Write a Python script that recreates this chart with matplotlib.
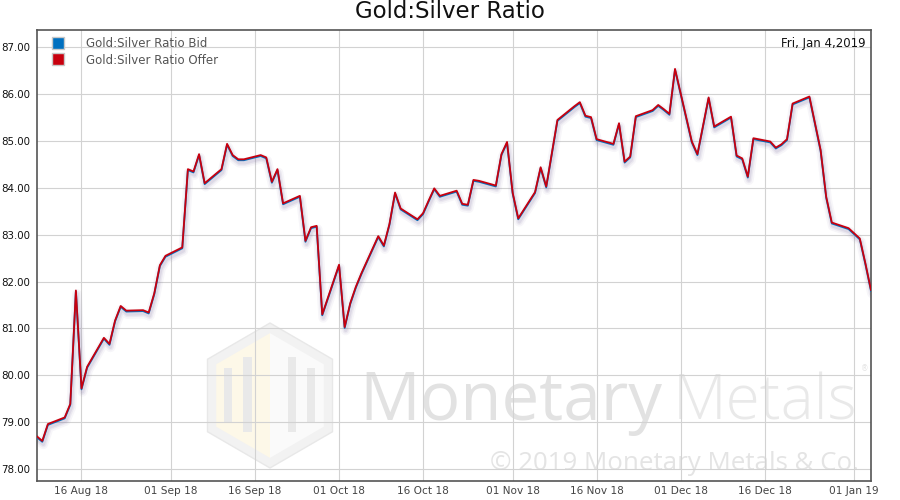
import numpy as np
import matplotlib
matplotlib.use("Agg")
import matplotlib.pyplot as plt
import matplotlib.dates as mdates
import matplotlib.transforms as mtransforms
from matplotlib.lines import Line2D
from matplotlib.patches import Polygon
from matplotlib.ticker import FormatStrFormatter, MultipleLocator
import pandas as pd

# trading days shown on the chart, per month
AUG_DAYS = [8, 9, 10, 13, 14, 15, 16, 17, 20, 21, 22, 23, 24, 27, 28, 29, 30, 31]
SEP_DAYS = [3, 4, 5, 6, 7, 10, 11, 12, 13, 14, 17, 18, 19, 20, 21, 24, 25, 26, 27, 28]
OCT_DAYS = [1, 2, 3, 4, 5, 8, 9, 10, 11, 12, 15, 16, 17, 18, 19, 22, 23, 24, 25, 26, 29, 30, 31]
NOV_DAYS = [1, 2, 5, 6, 7, 8, 9, 12, 13, 14, 15, 16, 19, 20, 21, 22, 23, 26, 27, 28, 29, 30]
DEC_DAYS = [3, 4, 6, 7, 10, 11, 12, 13, 14, 17, 18, 19, 20, 21, 24, 26, 27, 28, 31]
JAN_DAYS = [2, 3, 4]

OFFER = [
    78.70, 78.60, 78.96, 79.10, 79.39, 81.81, 79.72, 80.18, 80.80, 80.67, 81.17, 81.48, 81.38, 81.39, 81.34, 81.75, 82.35, 82.55,
    82.73, 84.40, 84.35, 84.72, 84.10, 84.40, 84.94, 84.70, 84.61, 84.61, 84.70, 84.65, 84.13, 84.40, 83.67, 83.83, 82.87, 83.16, 83.19, 81.30,
    82.36, 81.03, 81.54, 81.89, 82.18, 82.97, 82.77, 83.23, 83.90, 83.56, 83.33, 83.46, 83.73, 83.99, 83.83, 83.94, 83.66, 83.64, 84.17, 84.15, 84.05, 84.72, 84.98,
    83.90, 83.35, 83.91, 84.44, 84.03, 84.74, 85.45, 85.74, 85.83, 85.54, 85.51, 85.04, 84.94, 85.38, 84.56, 84.67, 85.53, 85.66, 85.77, 85.68, 85.58, 86.54,
    84.99, 84.72, 85.93, 85.31, 85.52, 84.69, 84.63, 84.24, 85.06, 84.99, 84.86, 84.93, 85.04, 85.80, 85.95, 84.81, 83.81, 83.26, 83.14,
    82.92, 82.39, 81.82,
]
BID = [
    78.68, 78.58, 78.94, 79.08, 79.37, 81.79, 79.70, 80.16, 80.78, 80.65, 81.15, 81.46, 81.36, 81.37, 81.32, 81.73, 82.33, 82.53,
    82.71, 84.38, 84.33, 84.70, 84.08, 84.38, 84.92, 84.68, 84.59, 84.59, 84.68, 84.63, 84.11, 84.38, 83.65, 83.81, 82.85, 83.14, 83.17, 81.28,
    82.34, 81.01, 81.52, 81.87, 82.16, 82.95, 82.75, 83.21, 83.88, 83.54, 83.31, 83.44, 83.71, 83.97, 83.81, 83.92, 83.64, 83.62, 84.15, 84.13, 84.03, 84.70, 84.96,
    83.88, 83.33, 83.89, 84.42, 84.01, 84.72, 85.43, 85.72, 85.81, 85.52, 85.49, 85.02, 84.92, 85.36, 84.54, 84.65, 85.51, 85.64, 85.75, 85.66, 85.56, 86.52,
    84.97, 84.70, 85.91, 85.29, 85.50, 84.67, 84.61, 84.22, 85.04, 84.97, 84.84, 84.91, 85.02, 85.78, 85.93, 84.79, 83.79, 83.24, 83.12,
    82.90, 82.37, 81.80,
]

TITLE = "Gold:Silver Ratio"
LABEL_BID = "Gold:Silver Ratio Bid"
LABEL_OFFER = "Gold:Silver Ratio Offer"
DATE_STAMP = "Fri, Jan 4,2019"

BLUE = "#0070c0"
RED = "#c8000e"

months = [(2018, 8, AUG_DAYS), (2018, 9, SEP_DAYS), (2018, 10, OCT_DAYS),
          (2018, 11, NOV_DAYS), (2018, 12, DEC_DAYS), (2019, 1, JAN_DAYS)]
dates = pd.to_datetime([f"{y}-{m:02d}-{d:02d}" for y, m, days in months for d in days])

W, H = 900, 500
fig = plt.figure(figsize=(W / 100, H / 100), dpi=100)
ax = fig.add_axes([36.7 / W, 1 - 480.7 / H, (871 - 36.7) / W, (480.7 - 30) / H])
ax.set_axisbelow(True)


def px(x, y):
    return (x / W, 1 - y / H)


# --- watermark: hexagon logo (kept under the grid) ---
cx, cy, hw, hh = 270, 395.5, 62.5, 72.5
outer = [(cx, cy - hh), (cx + hw, cy - hh / 2), (cx + hw, cy + hh / 2),
         (cx, cy + hh), (cx - hw, cy + hh / 2), (cx - hw, cy - hh / 2)]
ax.add_patch(Polygon([px(*p) for p in outer], closed=True, transform=fig.transFigure,
                     facecolor="#f2f2f2", edgecolor="#e8e8e8", lw=1, zorder=0.1))
s = 0.86
inner = [(cx + (x - cx) * s, cy + (y - cy) * s) for x, y in outer]
left_face = [inner[0], (cx, cy + hh * s * 0.62), inner[3], inner[4], inner[5]]
right_face = [inner[0], inner[1], inner[2], inner[3], (cx, cy + hh * s * 0.62)]
ax.add_patch(Polygon([px(*p) for p in left_face], closed=True, transform=fig.transFigure,
                     facecolor="#fdf8e8", edgecolor="none", zorder=0.15))
ax.add_patch(Polygon([px(*p) for p in right_face], closed=True, transform=fig.transFigure,
                     facecolor="#fafafa", edgecolor="none", zorder=0.15))
for x0, x1, y0, y1 in [(224, 232, 368, 423), (243, 252, 357, 432),
                       (288, 296, 357, 432), (307, 315, 368, 423)]:
    bar = [(x0, y0), (x1, y0), (x1, y1), (x0, y1)]
    ax.add_patch(Polygon([px(*p) for p in bar], closed=True, transform=fig.transFigure,
                         facecolor="#e9e9e9", edgecolor="none", zorder=0.2))

# --- watermark: text, scaled to the reference widths ---
renderer = fig.canvas.get_renderer()


def fit_text(x, y, s, width_px, color, weight="normal", size=50):
    t = ax.text(x / W, 1 - y / H, s, color=color, fontsize=size, family="Open Sans",
                fontweight=weight, ha="left", va="baseline", zorder=0.2,
                transform=fig.transFigure)
    w = t.get_window_extent(renderer).width
    t.set_fontsize(size * width_px / w)
    return t


fit_text(359, 420, "Monetary", 303, "#e2e2e2", weight="normal")
fit_text(673, 420, "Metals", 185, "#e9e9e9", weight="light")
ax.text(865 / W, 1 - 369 / H, "\u00ae", color="#e4e4e4", fontsize=5.5, ha="center",
        va="center", transform=fig.transFigure, zorder=0.2)
fit_text(490, 470, "\u00a9 2019 Monetary Metals & Co.", 369, "#e4e4e4", weight="normal")

# --- soft shadow below the lines ---
for lw, alpha in [(7, 0.06), (4.5, 0.09), (2.5, 0.12)]:
    off = mtransforms.offset_copy(ax.transData, fig=fig, x=1.0, y=-2.5, units="dots")
    ax.plot(dates, BID, color="#7a6aa0", lw=lw, alpha=alpha, transform=off,
            solid_joinstyle="round", solid_capstyle="round", zorder=2)

ax.plot(dates, BID, color=BLUE, lw=1.3, zorder=3)
ax.plot(dates, OFFER, color=RED, lw=1.3, zorder=4)

# --- axes styling ---
ax.set_xlim(pd.Timestamp("2018-08-08"), pd.Timestamp("2019-01-04"))
ax.set_ylim(77.75, 87.37)
ax.yaxis.set_major_locator(MultipleLocator(1))
ax.yaxis.set_major_formatter(FormatStrFormatter("%.2f"))
ax.xaxis.set_major_locator(mdates.DayLocator(bymonthday=[1, 16]))
ax.xaxis.set_major_formatter(mdates.DateFormatter("%d %b %y"))
ax.tick_params(axis="both", length=0)
ax.tick_params(axis="y", labelsize=7.4, labelcolor="#111111", pad=4.5)
ax.tick_params(axis="x", labelsize=7.6, labelcolor="#444444", pad=4)
ax.grid(True, color="#d2d2d2", lw=0.8)
for sp in ax.spines.values():
    sp.set_color("#555555")
    sp.set_linewidth(1.2)

fig.text(0.5, 1 - 12 / H, TITLE, ha="center", va="center", fontsize=16.5, color="#111111")
ax.text(0.994, 0.971, DATE_STAMP, transform=ax.transAxes, ha="right", va="center",
        fontsize=8.5, color="#111111", zorder=6)

handles = [
    Line2D([], [], ls="none", marker="s", markersize=9, markerfacecolor=BLUE,
           markeredgecolor="#c8c8c8", markeredgewidth=1),
    Line2D([], [], ls="none", marker="s", markersize=9, markerfacecolor=RED,
           markeredgecolor="#c8c8c8", markeredgewidth=1),
]
leg = ax.legend(handles, [LABEL_BID, LABEL_OFFER], loc="upper left",
                bbox_to_anchor=(0.018, 0.985), frameon=False, fontsize=8.5,
                labelcolor="#555555", handlelength=1.0, handletextpad=1.9,
                labelspacing=0.32, borderpad=0, borderaxespad=0)
leg.set_zorder(6)

fig.savefig("out.png", dpi=100)
